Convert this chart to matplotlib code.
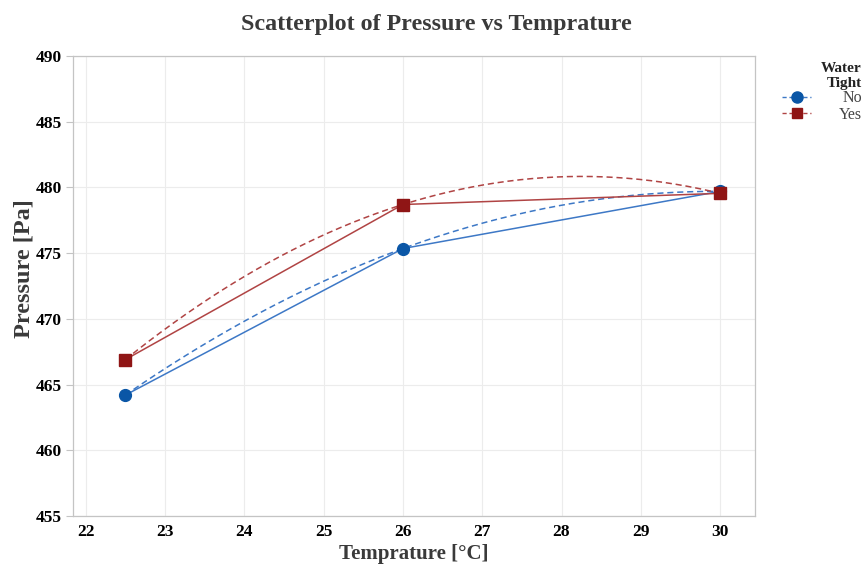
import numpy as np
import matplotlib
matplotlib.use("Agg")
import matplotlib.pyplot as plt
from matplotlib.lines import Line2D

plt.rcParams['font.family'] = ['Liberation Serif', 'DejaVu Serif']

temperature = [22.5, 26, 30]
pressure_no = [464.2, 475.35, 479.7]
pressure_yes = [466.9, 478.7, 479.55]
groups = ["No", "Yes"]
x_ticks = [22, 23, 24, 25, 26, 27, 28, 29, 30]
y_ticks = [455, 460, 465, 470, 475, 480, 485, 490]

marker_colors = {"No": "#0a56a6", "Yes": "#8f1515"}
line_colors = {"No": "#3d78c6", "Yes": "#b04444"}
markers = {"No": "o", "Yes": "s"}

W, H = 865, 568
fig = plt.figure(figsize=(W / 100, H / 100), dpi=100)
ax = fig.add_axes([73 / W, (H - 516) / H, (755 - 73) / W, (516 - 56) / H])

series = {"No": pressure_no, "Yes": pressure_yes}
xs = np.linspace(min(temperature), max(temperature), 200)
for g in groups:
    y = series[g]
    coef = np.polyfit(temperature, y, 2)
    ax.plot(xs, np.polyval(coef, xs), ls=(0, (4, 2.5)), lw=1.1, color=line_colors[g], zorder=3)
    ax.plot(temperature, y, '-', lw=1.1, color=line_colors[g], zorder=3)
    ax.plot(temperature, y, ls='none', marker=markers[g], ms=8.5 if g == "No" else 8,
            color=marker_colors[g], zorder=4)

ax.set_xlim(21.84, 30.44)
ax.set_ylim(455, 490)
ax.set_xticks(x_ticks)
ax.set_yticks(y_ticks)
ax.grid(True, color='#ececec', lw=0.8)
ax.set_axisbelow(True)
for s in ax.spines.values():
    s.set_color('#c4c4c4')
    s.set_linewidth(0.9)
ax.tick_params(axis='x', length=0, pad=6, labelsize=12.5)
ax.tick_params(axis='y', length=5, color='#c4c4c4', pad=3, labelsize=12.5)
for lab in ax.get_xticklabels() + ax.get_yticklabels():
    lab.set_fontweight('bold')
    lab.set_color('black')

ax.set_xlabel('Temprature [°C]', fontsize=15, fontweight='bold', color='#3a3a3a')
ax.xaxis.set_label_coords(0.5, (516 - 554) / 460)
ax.xaxis.label.set_va('center')
ax.set_ylabel('Pressure [Pa]', fontsize=17.5, fontweight='bold', color='#3a3a3a')
ax.yaxis.set_label_coords((24 - 73) / 682, (516 - 269) / 460)
ax.yaxis.label.set_va('center')
fig.text(0.505, 1 - 30 / H, 'Scatterplot of Pressure vs Temprature', ha='center',
         va='baseline', fontsize=17.3, fontweight='bold', color='#3a3a3a')

# legend
tx = 862 / W
fig.text(tx, 1 - 71.5 / H, 'Water', ha='right', va='baseline', fontsize=11,
         fontweight='bold', color='#222222')
fig.text(tx, 1 - 87 / H, 'Tight', ha='right', va='baseline', fontsize=11,
         fontweight='bold', color='#222222')
row_y = {"No": 97, "Yes": 113}
row_base = {"No": 101.5, "Yes": 119}
for g in groups:
    yy = 1 - row_y[g] / H
    fig.add_artist(Line2D([782 / W, 811 / W], [yy, yy], transform=fig.transFigure,
                          ls=(0, (3, 2)), lw=1.0, color=line_colors[g]))
    fig.add_artist(Line2D([797 / W], [yy], transform=fig.transFigure, ls='none',
                          marker=markers[g], ms=8 if g == "No" else 7.5,
                          color=marker_colors[g]))
    fig.text(tx, 1 - row_base[g] / H, g, ha='right', va='baseline', fontsize=11.5,
             color='#444444')

fig.savefig('out.png', dpi=100)
